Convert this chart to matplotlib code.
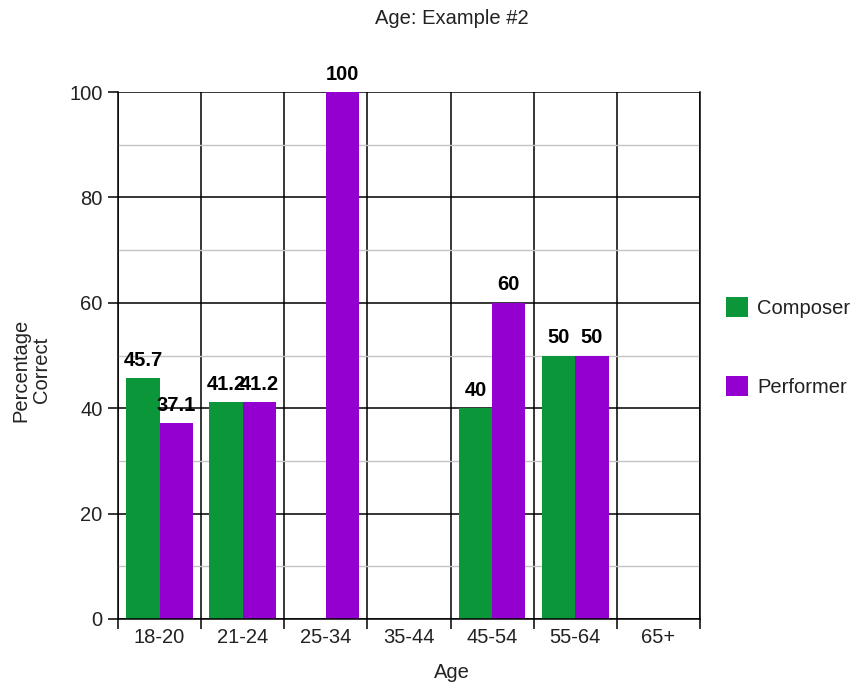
import numpy as np
import matplotlib.pyplot as plt
from matplotlib.patches import Patch

plt.rcParams['font.family'] = ['Liberation Sans', 'DejaVu Sans']

age_groups = ['18-20', '21-24', '25-34', '35-44', '45-54', '55-64', '65+']
composer = [45.7, 41.2, np.nan, np.nan, 40, 50, np.nan]
performer = [37.1, 41.2, 100, np.nan, 60, 50, np.nan]

green = '#0b9639'
purple = '#9400d0'
fs = 14.5

fig = plt.figure(figsize=(8.61, 6.89), dpi=100)
ax = fig.add_axes([118 / 861, 1 - 619 / 689, 582 / 861, 527 / 689])

x = np.arange(len(age_groups))
w = 0.4


def draw_bars(offset, values, color):
    for xi, v in zip(x, values):
        if np.isnan(v):
            continue
        ax.bar(xi + offset, v, width=w, color=color, zorder=3)
        ax.annotate(f'{v:g}', (xi + offset, v), xytext=(0, 6),
                    textcoords='offset points', ha='center', va='bottom',
                    fontsize=fs, fontweight='bold', zorder=4)


draw_bars(-w / 2, composer, green)
draw_bars(w / 2, performer, purple)

ax.set_xlim(-0.5, len(age_groups) - 0.5)
ax.set_ylim(0, 100)

# boundaries get the tick marks, centres get the labels
ax.set_xticks(np.arange(len(age_groups) + 1) - 0.5)
ax.set_xticklabels([])
ax.set_xticks(x, minor=True)
ax.set_xticklabels(age_groups, minor=True)
ax.tick_params(axis='x', which='major', length=7, width=1.1, color='black')
ax.tick_params(axis='x', which='minor', length=0, pad=6.5, labelsize=fs,
               labelcolor='#222222')

ax.set_yticks(np.arange(0, 101, 20))
ax.set_yticks(np.arange(10, 100, 20), minor=True)
ax.tick_params(axis='y', which='major', length=7, width=1.1, pad=4,
               labelsize=fs, labelcolor='#222222')
ax.tick_params(axis='y', which='minor', length=0)

ax.grid(axis='y', which='minor', color='#c4c4c4', linewidth=1.0, zorder=1)
ax.grid(axis='y', which='major', color='black', linewidth=1.1, zorder=2)
ax.grid(axis='x', which='major', color='black', linewidth=1.1, zorder=2)

for spine in ax.spines.values():
    spine.set_linewidth(1.1)
    spine.set_zorder(5)
ax.spines['top'].set_visible(False)

fig.text(452 / 861, 1 - 18 / 689, 'Age: Example #2', ha='center', va='center',
         fontsize=fs, color='#222222')
fig.text(452 / 861, 1 - 673 / 689, 'Age', ha='center', va='center',
         fontsize=fs, color='#222222')
fig.text(31 / 861, 1 - 370 / 689, 'Percentage\nCorrect', ha='center',
         va='center', rotation=90, fontsize=fs, color='#222222',
         multialignment='center', linespacing=1.15)

handles = [Patch(facecolor=green, label='Composer'),
           Patch(facecolor=purple, label='Performer')]
leg = fig.legend(handles=handles, loc='center left',
                 bbox_to_anchor=(726 / 861, 1 - 347 / 689), frameon=False,
                 fontsize=fs, handlelength=1.1, handleheight=1.1,
                 handletextpad=0.45, labelspacing=2.9, borderpad=0,
                 borderaxespad=0)
for t in leg.get_texts():
    t.set_color('#222222')

fig.savefig('out.png', dpi=100)
